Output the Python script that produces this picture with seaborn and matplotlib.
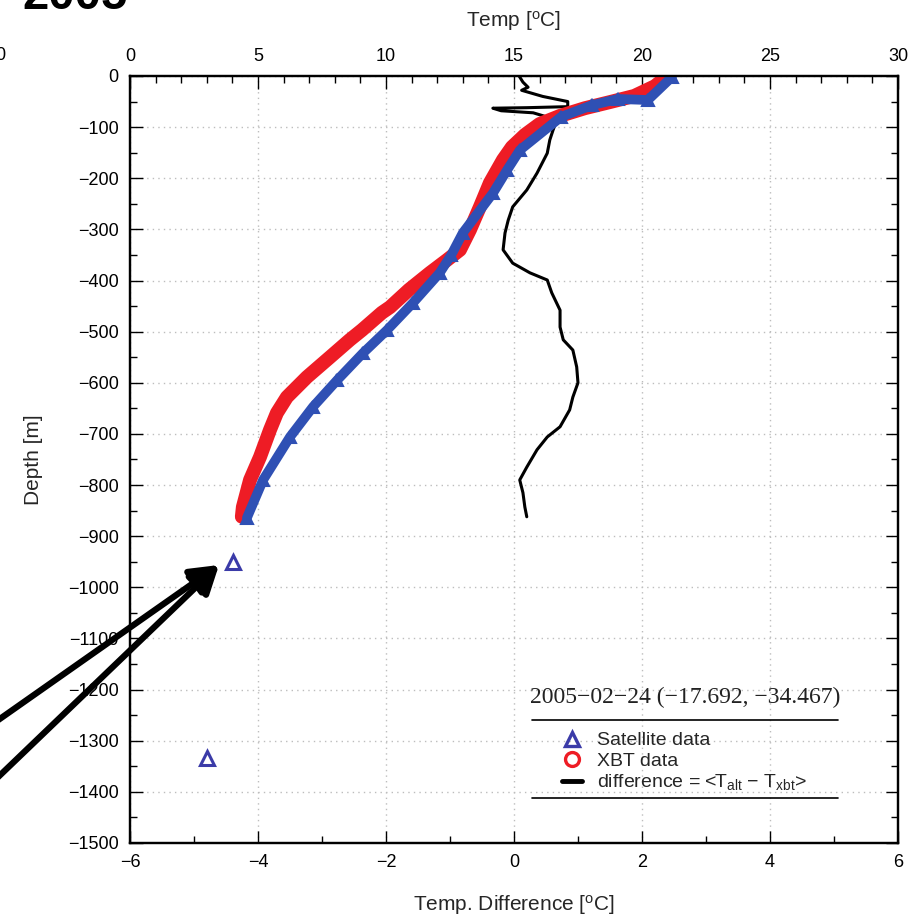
import numpy as np
import pandas as pd
import matplotlib
matplotlib.use("Agg")
import matplotlib.pyplot as plt
import seaborn as sns
from matplotlib.lines import Line2D
from matplotlib.ticker import MultipleLocator

sns.set_theme(style="white")
plt.rcParams["font.family"] = ["Liberation Sans", "DejaVu Sans"]
plt.rcParams["mathtext.fontset"] = "custom"
plt.rcParams["mathtext.rm"] = "Liberation Sans"
plt.rcParams["mathtext.it"] = "Liberation Sans:italic"

# ---------------- data ----------------
xbt_temp = [21.0, 20.5, 19.7, 18.75, 17.77, 16.8, 16.0, 15.43, 14.92, 14.57, 14.06,
            13.67, 13.28, 12.89, 12.38, 11.72, 10.9, 10.16, 9.84, 9.06, 8.59, 7.81, 6.91,
            6.13, 5.74, 5.47, 5.08, 4.69, 4.41, 4.37]
xbt_depth = [0, -20, -39, -51, -63, -78, -94, -115, -139, -164, -209,
             -256, -301, -340, -360, -385, -418, -452, -463, -497, -516, -550, -589,
             -628, -659, -692, -745, -790, -843, -862]

sat_temp = [21.17, 20.23, 19.06, 18.05, 16.84, 15.23, 14.73, 14.18, 13.0,
            12.55, 12.1, 11.05, 10.04, 9.10, 8.09, 7.15, 6.25, 5.20, 4.57, 4.02, 3.0]
sat_depth = [-2, -47, -45, -57, -80, -145, -184, -229, -307,
             -350, -385, -444, -497, -542, -595, -647, -706, -790, -864, -950, -1334]

diff_val = [0.08, 0.14, 0.22, 0.12, 0.45, 0.84, 0.84, 0.20, -0.33, -0.20, 0.30, 0.67,
            0.61, 0.56, 0.52, 0.36, 0.20, -0.02, -0.09, -0.14, -0.17, -0.02, 0.25,
            0.52, 0.59, 0.72, 0.72, 0.77, 0.92, 0.98, 1.00, 0.92, 0.87, 0.72, 0.52,
            0.36, 0.20, 0.09, 0.14, 0.17, 0.20]
diff_depth = [0, -12, -22, -28, -40, -50, -60, -62, -63, -68, -72, -86,
              -106, -125, -151, -190, -223, -256, -282, -307, -340, -366, -385,
              -399, -424, -458, -491, -516, -536, -569, -600, -628, -653, -686, -706,
              -731, -765, -790, -815, -843, -862]

legend_title = "2005\u221202\u221224 (\u221217.692, \u221234.467)"
legend_labels = ["Satellite data", "XBT data",
                 "difference = <T$_{\\rm alt}$ \u2212 T$_{\\rm xbt}$>"]

# ---------------- figure ----------------
fig = plt.figure(figsize=(9.23, 9.21), dpi=100)
ax = fig.add_axes([0.1408, 0.0847, 0.8321, 0.8328])
axT = ax.twiny()

RED = "#ee1c25"
BLUE = "#2f50b4"
TRI = "#3b3ba8"

# difference (bottom axis)
sns.lineplot(x=diff_val, y=diff_depth, sort=False, estimator=None,
             color="black", lw=2.2, ax=ax)

# XBT (top axis)
sns.lineplot(x=xbt_temp, y=xbt_depth, sort=False, estimator=None,
             color=RED, lw=10, solid_capstyle="round", solid_joinstyle="round", ax=axT)

# Satellite line over the XBT depth range, markers everywhere
sat_df = pd.DataFrame({"t": sat_temp, "d": sat_depth})
line_df = sat_df[sat_df["d"] >= min(xbt_depth) - 5]
sns.lineplot(data=line_df, x="t", y="d", sort=False, estimator=None,
             color=BLUE, lw=7, solid_capstyle="round", solid_joinstyle="round", ax=axT)
sns.lineplot(data=line_df, x="t", y="d", sort=False, estimator=None,
             linestyle="", marker="^", markersize=9, markerfacecolor=BLUE,
             markeredgecolor=BLUE, markeredgewidth=1.5, ax=axT)
deep_df = sat_df[sat_df["d"] < min(xbt_depth) - 5]
sns.lineplot(data=deep_df, x="t", y="d", sort=False, estimator=None,
             linestyle="", marker="^", markersize=10, markerfacecolor="none",
             markeredgecolor=TRI, markeredgewidth=2.2, ax=axT)

# ---------------- axes styling ----------------
ax.set_xlim(-6, 6)
ax.set_ylim(-1500, 0)
axT.set_xlim(0, 30)
axT.set_ylim(-1500, 0)

ax.xaxis.set_major_locator(MultipleLocator(2))
ax.xaxis.set_minor_locator(MultipleLocator(1))
ax.yaxis.set_major_locator(MultipleLocator(100))
ax.yaxis.set_minor_locator(MultipleLocator(50))
axT.xaxis.set_major_locator(MultipleLocator(5))
axT.xaxis.set_minor_locator(MultipleLocator(1))

ax.tick_params(axis="both", which="both", direction="in", colors="black",
               labelsize=13, bottom=True, left=True, right=True, top=False)
ax.tick_params(axis="both", which="major", length=9, width=1.0, pad=8)
ax.tick_params(axis="both", which="minor", length=5, width=1.0)
axT.tick_params(axis="x", which="both", direction="in", top=True, bottom=False,
                labelsize=13, colors="black")
axT.tick_params(axis="x", which="major", length=9, width=1.0, pad=8)
axT.tick_params(axis="x", which="minor", length=5, width=1.0)

ax.grid(True, which="major", color="#bdbdbd", linestyle=(0, (1, 3)), linewidth=1.0)
ax.set_axisbelow(True)

for a in (ax, axT):
    for s in a.spines.values():
        s.set_color("black")
        s.set_linewidth(1.6)

ax.set_xlabel("Temp. Difference [$^{\\rm o}$C]", fontsize=15, labelpad=16)
ax.set_ylabel("Depth [m]", fontsize=15, labelpad=18)
axT.set_xlabel("Temp [$^{\\rm o}$C]", fontsize=15, labelpad=15)

# ---------------- legend ----------------
handles = [
    Line2D([], [], marker="^", ls="none", mfc="none", mec=TRI, mew=2.4, ms=10),
    Line2D([], [], marker="o", ls="none", mfc="none", mec=RED, mew=2.4, ms=10),
    Line2D([], [], color="black", lw=3.5),
]
leg = axT.legend(handles, legend_labels, loc="upper left",
                 bbox_to_anchor=(0.558, 0.150), frameon=False, fontsize=14,
                 handlelength=1.0, handletextpad=0.8, labelspacing=0.14,
                 borderaxespad=0, borderpad=0.2)
axT.text(0.723, 0.190, legend_title, transform=axT.transAxes, ha="center",
         va="center", family="Liberation Serif", fontsize=17, color="#222222")
for yy in (0.160, 0.0587):
    axT.plot([0.523, 0.922], [yy, yy], transform=axT.transAxes, color="black",
             lw=1.2, clip_on=False)

# ---------------- extra annotations (arrows, clipped panel text) ----------------
for start in [(-6, 198), (-6, 140)]:
    ax.annotate("", xy=(219, 356), xycoords="figure pixels",
                xytext=start, textcoords="figure pixels",
                arrowprops=dict(arrowstyle="-|>,head_length=1.4,head_width=0.75",
                                lw=4.5, color="black", shrinkA=0, shrinkB=0),
                annotation_clip=False)

fig.text(22 / 923, 1 - 9 / 921, "2005", fontsize=34, fontweight="bold",
         va="baseline", ha="left", color="black")
fig.text(0.0, 1 - 55 / 921, "0", fontsize=13, va="center", ha="center", color="black")

fig.savefig("out.png", dpi=100)
